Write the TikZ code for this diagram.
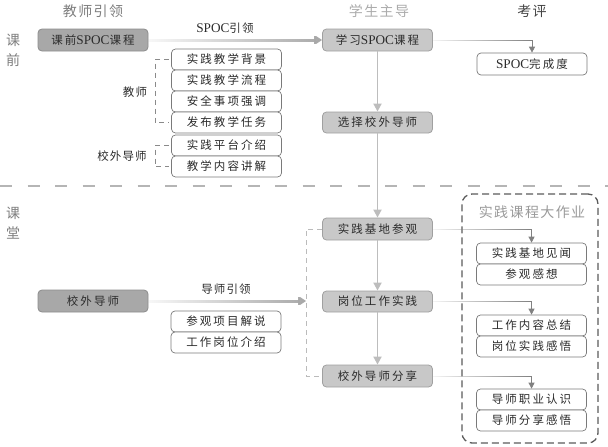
\documentclass[tikz,border=0pt]{standalone}
\usepackage{fontspec}
\setmainfont{Noto Sans CJK SC}
\newfontfamily\cjk[LetterSpace=18]{Noto Sans CJK SC}
\newfontfamily\cjkt[LetterSpace=10]{Noto Sans CJK SC}
\newfontfamily\lat[Scale=1.15]{Liberation Serif}
\usetikzlibrary{arrows.meta,calc,fadings}
\definecolor{fdark}{HTML}{A8A8A8}
\definecolor{bdark}{HTML}{8C8C8C}
\definecolor{fstep}{HTML}{C8C8C8}
\definecolor{bstep}{HTML}{A0A0A0}
\definecolor{bwhite}{HTML}{7A7A7A}
\definecolor{txt}{HTML}{2B2B2B}
\definecolor{vcol}{HTML}{BDBDBD}
\definecolor{tcol}{HTML}{A8A8A8}
\definecolor{rcol}{HTML}{7F7F7F}
\definecolor{brkcol}{HTML}{8A8A8A}
\definecolor{lbrkcol}{HTML}{BBBBBB}
\definecolor{sepcol}{HTML}{B5B5B5}
\definecolor{grpcol}{HTML}{5A5A5A}
\definecolor{grptitle}{HTML}{9A9A9A}
\definecolor{tit1}{HTML}{7E7E7E}
\definecolor{tit2}{HTML}{ABABAB}
\definecolor{tit3}{HTML}{444444}
\tikzfading[name=fadelr, left color=transparent!92, right color=transparent!0]
\begin{document}
\begin{tikzpicture}[x=1pt,y=-1pt,
  basebox/.style={rounded corners=4pt, minimum width=110pt, minimum height=21pt, inner sep=0pt,
    font=\cjk\fontsize{11.5}{13}\selectfont, text=txt},
  darkbox/.style={basebox, draw=bdark, fill=fdark, line width=0.8pt},
  stepbox/.style={basebox, draw=bstep, fill=fstep, line width=0.8pt},
  whitebox/.style={basebox, draw=bwhite, fill=white, line width=0.7pt},
  lbl/.style={font=\cjkt\fontsize{11.5}{13}\selectfont, text=txt, inner sep=0pt},
  toptitle/.style={font=\cjkt\fontsize{14}{16}\selectfont, inner sep=0pt},
  sidetitle/.style={font=\fontsize{14}{20}\selectfont, text=tit1, align=center, inner sep=0pt},
  varrow/.style={draw=vcol, line width=1.8pt, -{Triangle[length=8pt,width=8pt]}},
  tarrow/.style={draw=tcol, line width=3pt, path fading=fadelr, -{Triangle[length=8pt,width=10pt]}},
  rconn/.style={draw=rcol, line width=0.8pt, path fading=fadelr, -{Triangle[length=6pt,width=6pt]}},
  brk/.style={draw=brkcol, line width=0.8pt, dash pattern=on 5pt off 4pt},
  lbrk/.style={draw=lbrkcol, line width=1pt, dash pattern=on 5pt off 4pt},
  sepline/.style={draw=sepcol, line width=2.5pt, dash pattern=on 12pt off 15.5pt},
  grpbox/.style={draw=grpcol, line width=1.3pt, dash pattern=on 7pt off 4pt, rounded corners=10pt,
    minimum width=136pt, minimum height=249pt, inner sep=0pt}
]
\useasboundingbox (0,0) rectangle (608,447);

% titles
\node[toptitle, text=tit1] (t1) at (93,11) {教师引领};
\node[toptitle, text=tit2] (t2) at (379,11) {学生主导};
\node[toptitle, text=tit3] (t3) at (532,11) {考评};
\node[sidetitle] (s1) at (13,50) {课\\前};
\node[sidetitle] (s2) at (13,223) {课\\堂};

% separator
\draw[sepline] (0,186) -- (608,186);

% group box
\node[grpbox] (grp) at (530,318.5) {};
\node[toptitle, text=grptitle] (gt) at (532,212) {实践课程大作业};

% pre-class
\node[darkbox, minimum height=22pt] (kq) at (93,40) {课前{\lat SPOC}课程};
\node[stepbox, minimum height=22pt] (xx) at (377.5,40) {学习{\lat SPOC}课程};
\node[whitebox, minimum height=22pt] (wc) at (532,64) {{\lat SPOC}完成度};
\node[stepbox] (sel) at (377.5,122.5) {选择校外导师};

\node[whitebox] (b1) at (226.5,59.5) {实践教学背景};
\node[whitebox] (b2) at (226.5,80.5) {实践教学流程};
\node[whitebox] (b3) at (226.5,101.5) {安全事项强调};
\node[whitebox] (b4) at (226.5,122.5) {发布教学任务};
\node[whitebox] (b5) at (226.5,145.5) {实践平台介绍};
\node[whitebox] (b6) at (226.5,166.5) {教学内容讲解};

\node[lbl] (ljs) at (135,92) {教师};
\node[lbl] (lxw) at (122,156) {校外导师};
\node[lbl] (lspoc) at (225,28) {{\lat SPOC}引领};

\draw[brk] ([xshift=-2pt]b1.west) -- ++(-14,0) |- ([xshift=-2pt]b4.west);
\draw[brk] ([xshift=-2pt]b5.west) -- ++(-14,0) |- ([xshift=-2pt]b6.west);

\draw[tarrow] (kq.east) -- (xx.west);
\draw[rconn] (xx.east) -| (wc.north);
\draw[varrow] (xx) -- (sel);

% classroom
\node[stepbox, minimum height=22pt] (p1) at (377.5,229) {实践基地参观};
\node[stepbox] (p2) at (377.5,301.5) {岗位工作实践};
\node[stepbox, minimum height=22pt] (p3) at (377.5,376) {校外导师分享};

\node[darkbox, minimum height=22pt] (tw) at (93,301) {校外导师};
\node[lbl] (lds) at (226,289) {导师引领};
\node[whitebox] (c1) at (226,321.5) {参观项目解说};
\node[whitebox] (c2) at (226,342.5) {工作岗位介绍};

\node[whitebox] (r1) at (531.5,253.5) {实践基地见闻};
\node[whitebox] (r2) at (531.5,274.5) {参观感想};
\node[whitebox] (r3) at (531.5,325.5) {工作内容总结};
\node[whitebox] (r4) at (531.5,346.5) {岗位实践感悟};
\node[whitebox] (r5) at (531.5,399.5) {导师职业认识};
\node[whitebox] (r6) at (531.5,420.5) {导师分享感悟};

\draw[varrow] (sel) -- (p1);
\draw[varrow] (p1) -- (p2);
\draw[varrow] (p2) -- (p3);

\coordinate (lb) at ([xshift=-16pt]p1.west);
\draw[lbrk] (p1.west) -- (lb) |- (p3.west);
\draw[tarrow] (tw.east) -- (tw.east -| lb);

\draw[rconn] (p1.east) -| (r1.north);
\draw[rconn] (p2.east) -| (r3.north);
\draw[rconn] (p3.east) -| (r5.north);
\end{tikzpicture}
\end{document}
